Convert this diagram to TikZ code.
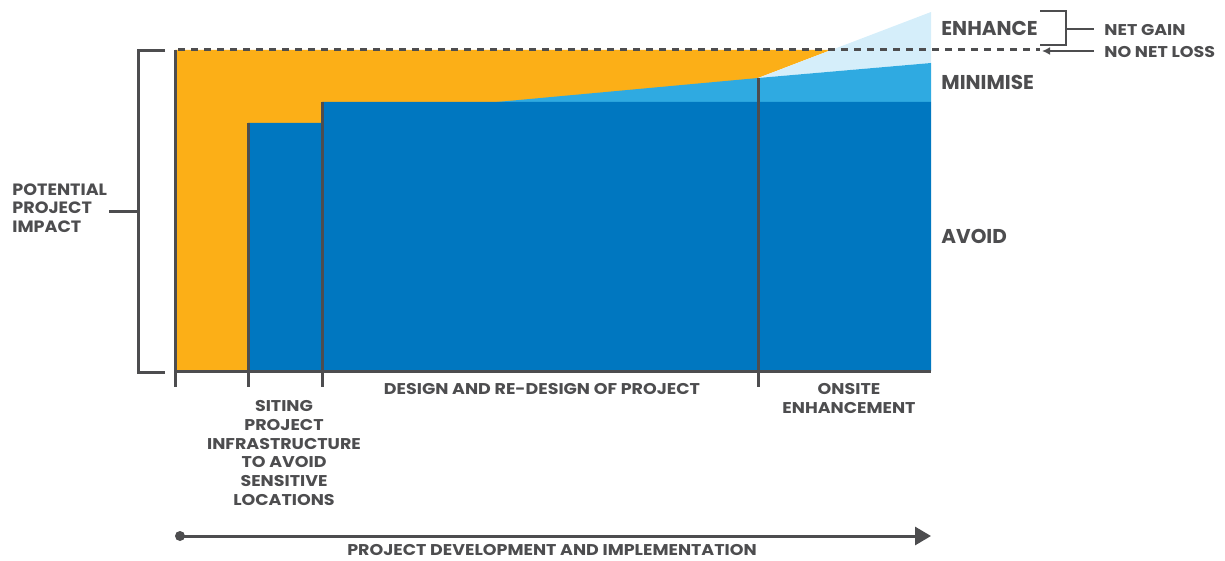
\documentclass[tikz,border=0pt]{standalone}
\usepackage{fontspec}
\setmainfont{Poppins}
\usetikzlibrary{arrows.meta}
\definecolor{cOrange}{HTML}{FCAF17}
\definecolor{cDark}{HTML}{0077C0}
\definecolor{cLight}{HTML}{2FAAE1}
\definecolor{cPale}{HTML}{D5EEFA}
\definecolor{cGray}{HTML}{4D4D4F}
\newfontfamily\widefont[FakeStretch=1.12]{Poppins}
\newfontfamily\sidefont[FakeStretch=1.07]{Poppins}
\begin{document}
\begin{tikzpicture}[x=0.5pt,y=-0.5pt,
  gline/.style={draw=cGray,line width=1.5pt},
  thin/.style={draw=cGray,line width=1.1pt},
  lbl/.style={text=cGray,font=\widefont\bfseries\fontsize{7.8}{9.4}\selectfont,inner sep=0pt,align=center},
  biglbl/.style={text=cGray,font=\bfseries\fontsize{10}{12}\selectfont,inner sep=0pt},
  sidelbl/.style={text=cGray,font=\sidefont\bfseries\fontsize{8.2}{9.2}\selectfont,inner sep=0pt,align=left}]
\useasboundingbox (0,0) rectangle (1225,561);
% areas
\fill[cOrange] (175,50) -- (831,50) -- (758,78) -- (758,371) -- (175,371) -- cycle;
\fill[cPale] (758,78) -- (931,12) -- (931,63) -- cycle;
\fill[cLight] (497,102) -- (758,78) -- (931,63) -- (931,102) -- cycle;
\fill[cDark] (248,371) -- (248,123) -- (322,123) -- (322,102) -- (931,102) -- (931,371) -- cycle;
% axes and dividers
\draw[gline] (175,50) -- (175,387);
\draw[gline] (248,123) -- (248,387);
\draw[gline] (322,102) -- (322,387);
\draw[gline] (758,78) -- (758,387);
\draw[gline] (175,371) -- (931,371);
% dashed target line
\draw[gline,dash pattern=on 3.5pt off 3pt] (178,50) -- (1040,50);
% left bracket
\draw[gline] (165,51) -- (138,51) -- (138,372) -- (165,372);
\coordinate (bmid) at (138,212);
\coordinate (btick) at (109,212);
% net gain bracket
\draw[thin] (1040,11) -- (1066,11) -- (1066,45) -- (1040,45);
\coordinate (gmid) at (1066,29);
\coordinate (gtick) at (1094,29);
% labels
\node[biglbl,anchor=west] (enh) at (941,28) {ENHANCE};
\node[biglbl,anchor=west] (min) at (941,82) {MINIMISE};
\node[biglbl,anchor=west] (avo) at (941,236) {AVOID};
\node[lbl,anchor=west] (gain) at (1104,30) {NET GAIN};
\node[lbl,anchor=west] (loss) at (1104,52) {NO NET LOSS};
\coordinate (ltick) at (1094,51);
\coordinate (dashend) at (1042,51);
\draw[thin] (gmid) -- (gtick);
\draw[thin,-{Latex[length=4pt,width=4pt]}] (ltick) -- (dashend);
\node[sidelbl,anchor=west] (pot) at (12,208) {POTENTIAL\\PROJECT\\IMPACT};
\draw[gline] (btick) -- (bmid);
\node[lbl,anchor=north] (siting) at (284,400) {SITING\\PROJECT\\INFRASTRUCTURE\\TO AVOID\\SENSITIVE\\LOCATIONS};
\node[lbl,anchor=north] (design) at (542,383) {DESIGN AND RE-DESIGN OF PROJECT};
\node[lbl,anchor=north] (onsite) at (849,383) {ONSITE\\ENHANCEMENT};
% timeline arrow
\fill[cGray] (180,536) circle (5);
\coordinate (tstart) at (180,536);
\coordinate (tend) at (931,536);
\draw[gline,-{Triangle[length=8pt,width=9pt]}] (tstart) -- (tend);
\node[lbl] (dev) at (552,550) {PROJECT DEVELOPMENT AND IMPLEMENTATION};
\end{tikzpicture}
\end{document}
